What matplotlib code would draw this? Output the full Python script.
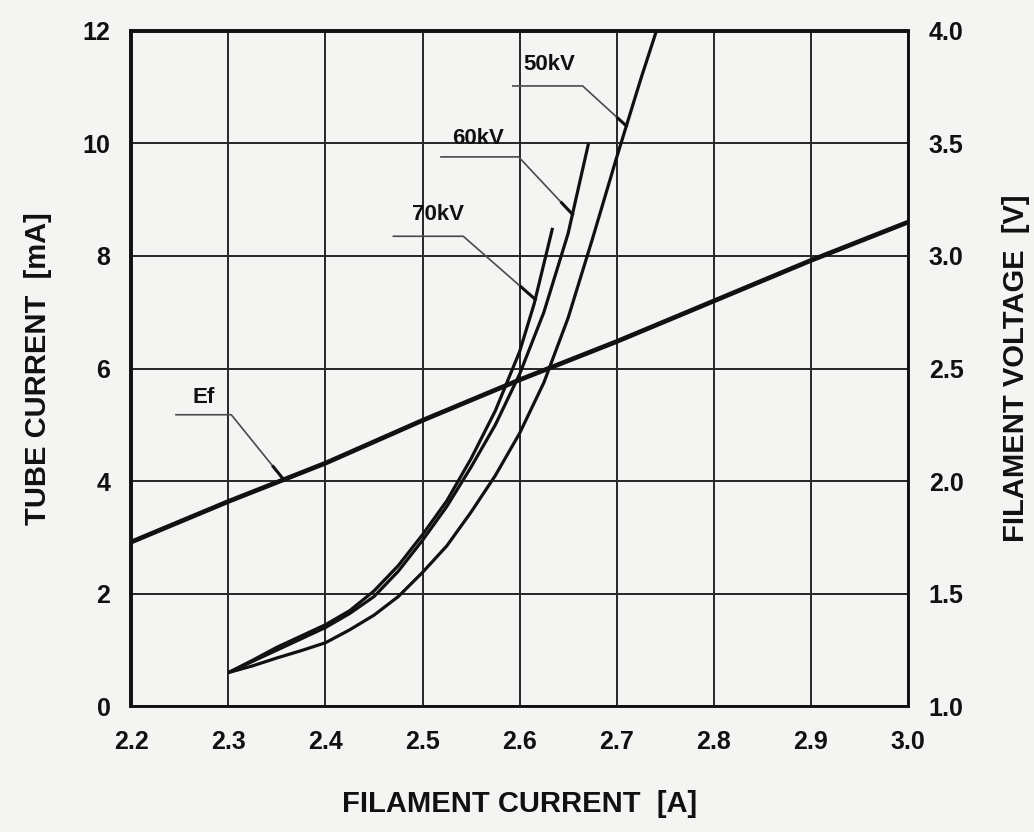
"""Tube current / filament voltage vs filament current (datasheet style)."""
import numpy as np
import matplotlib
matplotlib.use("Agg")
import matplotlib.pyplot as plt
from matplotlib import font_manager

# ---- data ------------------------------------------------------------------
ef_current = [2.2, 2.3, 2.4, 2.5, 2.6, 2.7, 2.8, 2.9, 3.0]          # A
ef_voltage = [1.73, 1.91, 2.08, 2.27, 2.45, 2.62, 2.80, 2.98, 3.15]  # V

kv70_current = [2.300, 2.325, 2.350, 2.375, 2.400, 2.425, 2.450, 2.475,
                2.500, 2.525, 2.550, 2.575, 2.600, 2.615, 2.634]
kv70_tube = [0.60, 0.82, 1.05, 1.25, 1.45, 1.70, 2.05, 2.50,
             3.05, 3.65, 4.40, 5.25, 6.30, 7.15, 8.50]

kv60_current = [2.300, 2.325, 2.350, 2.375, 2.400, 2.425, 2.450, 2.475,
                2.500, 2.525, 2.550, 2.575, 2.600, 2.625, 2.650, 2.671]
kv60_tube = [0.60, 0.80, 1.00, 1.20, 1.40, 1.65, 1.95, 2.40,
             2.95, 3.55, 4.25, 5.00, 5.90, 7.00, 8.40, 10.0]

kv50_current = [2.300, 2.325, 2.350, 2.375, 2.400, 2.425, 2.450, 2.475, 2.500,
                2.525, 2.550, 2.575, 2.600, 2.625, 2.650, 2.675, 2.700, 2.725, 2.741]
kv50_tube = [0.60, 0.72, 0.86, 0.99, 1.13, 1.36, 1.62, 1.95, 2.38,
             2.85, 3.45, 4.10, 4.85, 5.75, 6.90, 8.30, 9.75, 11.15, 12.0]

x_ticks = [2.2, 2.3, 2.4, 2.5, 2.6, 2.7, 2.8, 2.9, 3.0]
left_ticks = [0, 2, 4, 6, 8, 10, 12]
right_ticks = [1.0, 1.5, 2.0, 2.5, 3.0, 3.5, 4.0]

curve_labels = ["70kV", "60kV", "50kV"]

# pick a condensed bold face if the box has one
names = {f.name for f in font_manager.fontManager.ttflist}
FONT = "Liberation Sans Narrow" if "Liberation Sans Narrow" in names else "Liberation Sans"
plt.rcParams["font.family"] = [FONT, "DejaVu Sans"]
plt.rcParams["font.weight"] = "bold"

BG = "#f4f4f2"
INK = "#111111"

fig = plt.figure(figsize=(10.34, 8.32), dpi=100, facecolor=BG)
ax = fig.add_axes([0.127, 0.151, 0.751, 0.812], facecolor=BG)
ax2 = ax.twinx()

ax.set_xlim(2.2, 3.0)
ax.set_ylim(0, 12)
ax2.set_ylim(1.0, 4.0)

ax.set_xticks(x_ticks)
ax.set_xticklabels([f"{v:.1f}" for v in x_ticks])
ax.set_yticks(left_ticks)
ax2.set_yticks(right_ticks)
ax2.set_yticklabels([f"{v:.1f}" for v in right_ticks])

ax.grid(True, color="#262626", lw=1.4)
ax.set_axisbelow(True)
ax.tick_params(axis="both", length=0, labelsize=18, colors=INK)
ax.tick_params(axis="x", pad=17)
ax.tick_params(axis="y", pad=15)
ax2.tick_params(axis="y", length=0, labelsize=18, colors=INK, pad=15)

for a in (ax, ax2):
    a.spines["left"].set_linewidth(2.6)
    a.spines["top"].set_linewidth(2.6)
    a.spines["bottom"].set_linewidth(1.8)
    a.spines["right"].set_linewidth(1.8)
    for s in a.spines.values():
        s.set_color(INK)

# curves
ax2.plot(ef_current, ef_voltage, color=INK, lw=3.4, solid_capstyle="butt")
series = [(kv70_current, kv70_tube), (kv60_current, kv60_tube), (kv50_current, kv50_tube)]
for xs, ys in series:
    ax.plot(xs, ys, color=INK, lw=2.3, solid_capstyle="butt", solid_joinstyle="round")

# leader annotations: text position, start of horizontal leader, knee, level, tube current at curve
leaders = {
    "70kV": ((2.516, 8.74), 2.470, 2.542, 8.35, 7.23),
    "60kV": ((2.557, 10.09), 2.519, 2.599, 9.76, 8.74),
    "50kV": ((2.631, 11.41), 2.593, 2.665, 11.02, 10.31),
}
for name, (xs, ys) in zip(curve_labels, series):
    (tx, ty), x0, x1, yl, yc = leaders[name]
    xc = np.interp(yc, ys, xs)
    ax.plot([x0, x1, xc], [yl, yl, yc], color="#4a4a4a", lw=1.2)
    ax.plot([x1 + 0.8 * (xc - x1), xc], [yl + 0.8 * (yc - yl), yc], color=INK, lw=2.2)
    ax.text(tx, ty, name, ha="center", va="center", fontsize=16, color=INK)

# Ef leader (on the voltage axis)
ef_x = 2.357
ef_y = np.interp(ef_x, ef_current, ef_voltage)
ax2.plot([2.246, 2.303, ef_x], [2.295, 2.295, ef_y], color="#4a4a4a", lw=1.2)
ax2.plot([2.303 + 0.8 * (ef_x - 2.303), ef_x], [2.295 + 0.8 * (ef_y - 2.295), ef_y],
         color=INK, lw=2.2)
ax2.text(2.275, 2.37, "Ef", ha="center", va="center", fontsize=16, color=INK)

label_kw = dict(fontsize=21, color=INK, fontweight="bold")
ax.set_xlabel("FILAMENT CURRENT  [A]", labelpad=26, **label_kw)
ax.set_ylabel("TUBE CURRENT  [mA]", labelpad=22, **label_kw)
ax2.set_ylabel("FILAMENT VOLTAGE  [V]", labelpad=28, **label_kw)

fig.savefig("out.png", dpi=100, facecolor=BG)
